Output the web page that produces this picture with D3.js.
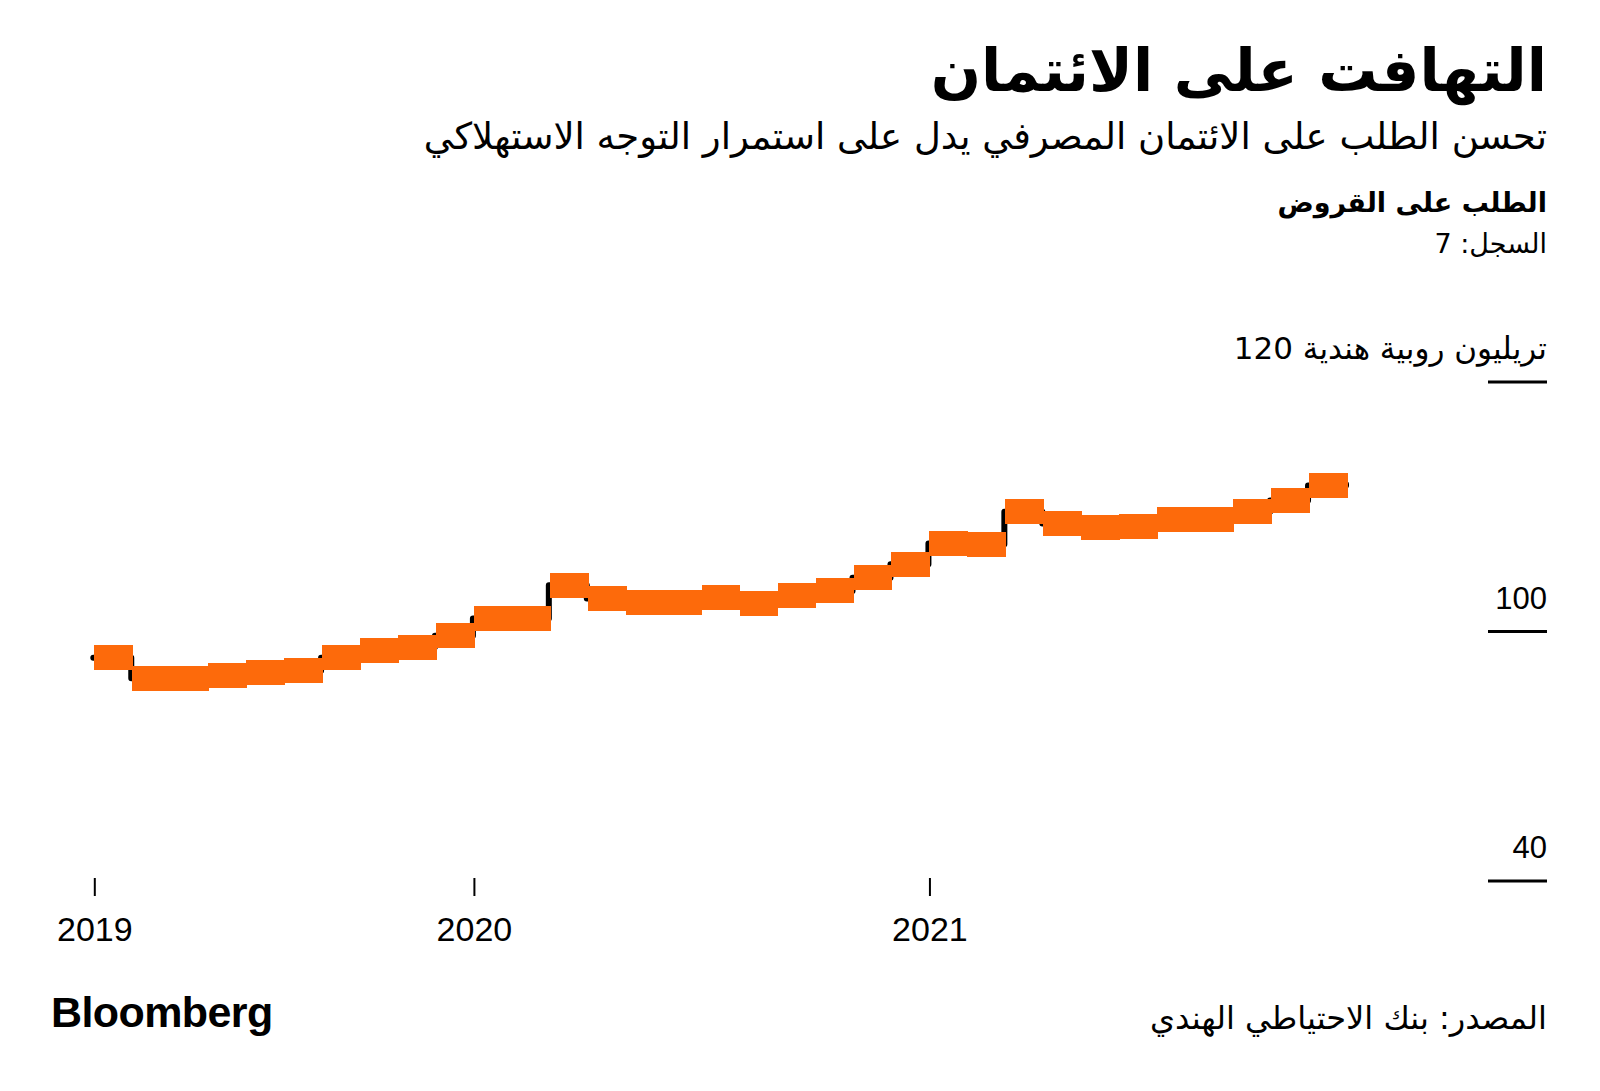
<!DOCTYPE html>
<html>
<head>
<meta charset="utf-8">
<script src="https://cdn.jsdelivr.net/npm/d3@7"></script>
<style>
  html, body { margin: 0; padding: 0; background: #ffffff; }
  svg { display: block; }
  .ar { font-family: "DejaVu Sans", "Noto Sans", sans-serif; }
  .num { font-family: "Liberation Sans", Arial, sans-serif; }
</style>
</head>
<body>
<script>
// ---- Data ----
// Bank credit (loan demand), trillion rupees, one value per period, Jan 2019 .. late 2021
const creditValues = [
  97.9, 96.25, 96.25, 96.5, 96.7, 96.85, 97.9, 98.45, 98.75, 99.65,
  101.05, 101.05, 103.7, 102.65, 102.3, 102.35, 102.7, 102.25, 102.85, 103.25,
  104.3, 105.4, 107.05, 107.0, 109.6, 108.65, 108.3, 108.45, 109.0, 109.0,
  109.6, 110.5, 111.7, 111.8
];
const yearTickPeriods = [0, 10, 22];
const yearTickLabels = ["2019", "2020", "2021"];
const yTickValues = [80, 100, 120];
const yTickLabels = ["40", "100", "120"];
const unitLabel = "تريليون روبية هندية";

const titleText = "التهافت على الائتمان";
const subtitleText = "تحسن الطلب على الائتمان المصرفي يدل على استمرار التوجه الاستهلاكي";
const chartTitleText = "الطلب على القروض";
const recordText = "السجل: 7";
const sourceText = "المصدر: بنك الاحتياطي الهندي";
const logoText = "Bloomberg";

// ---- Layout ----
const W = 1600, H = 1091;
const RIGHT = 1547;
const orange = "#fd6a0b";

const svg = d3.select("body").append("svg")
  .attr("width", W).attr("height", H)
  .attr("viewBox", `0 0 ${W} ${H}`);

svg.append("rect").attr("width", W).attr("height", H).attr("fill", "#fff");

// Header texts
svg.append("text").attr("class", "ar")
  .attr("x", RIGHT).attr("y", 91)
  .attr("text-anchor", "end")
  .attr("font-size", 59).attr("font-weight", 700)
  .attr("fill", "#000")
  .text(titleText);

svg.append("text").attr("class", "ar")
  .attr("x", RIGHT).attr("y", 149)
  .attr("text-anchor", "end")
  .attr("font-size", 37)
  .attr("fill", "#000")
  .text(subtitleText);

svg.append("text").attr("class", "ar")
  .attr("x", RIGHT).attr("y", 212)
  .attr("text-anchor", "end")
  .attr("font-size", 27).attr("font-weight", 700)
  .attr("fill", "#000")
  .text(chartTitleText);

svg.append("text").attr("class", "ar")
  .attr("x", RIGHT).attr("y", 253)
  .attr("text-anchor", "end")
  .attr("font-size", 27)
  .attr("fill", "#000")
  .text(recordText);

// ---- Scales ----
const x = d3.scaleLinear()
  .domain([0, creditValues.length - 1])
  .range([93.3, 1346]);

const y = d3.scaleLinear()
  .domain([80, 120])
  .range([881, 382]);

// ---- Y axis (right side, labels above short tick lines) ----
const yAxisG = svg.append("g");
yTickValues.forEach((v, i) => {
  yAxisG.append("line")
    .attr("x1", 1488).attr("x2", RIGHT)
    .attr("y1", y(v)).attr("y2", y(v))
    .attr("stroke", "#000").attr("stroke-width", 3);
  const isTop = i === yTickValues.length - 1;
  const t = yAxisG.append("text")
    .attr("x", RIGHT).attr("y", y(v) - 23)
    .attr("text-anchor", "end")
    .attr("fill", "#000")
    .attr("font-size", 31);
  if (isTop) {
    t.attr("class", "ar").text(unitLabel + " " + yTickLabels[i]);
  } else {
    t.attr("class", "num").text(yTickLabels[i]);
  }
});

// ---- X axis ----
const xAxis = d3.axisBottom(x)
  .tickValues(yearTickPeriods)
  .tickFormat((d, i) => yearTickLabels[i])
  .tickSize(18)
  .tickPadding(21);

const xAxisG = svg.append("g")
  .attr("transform", "translate(1,878)")
  .call(xAxis);
xAxisG.select(".domain").remove();
xAxisG.selectAll(".tick line").attr("stroke", "#000").attr("stroke-width", 2);
xAxisG.selectAll(".tick text")
  .attr("class", "num")
  .attr("font-family", "Liberation Sans, Arial, sans-serif")
  .attr("font-size", 34)
  .attr("fill", "#000");

// ---- Black step line ----
const stepLine = d3.line()
  .x((d, i) => x(i))
  .y(d => y(d))
  .curve(d3.curveStepAfter);

svg.append("path")
  .datum(creditValues)
  .attr("d", stepLine)
  .attr("fill", "none")
  .attr("stroke", "#000")
  .attr("stroke-width", 6)
  .attr("stroke-linecap", "round")
  .attr("stroke-linejoin", "round");

// ---- Orange step blocks ----
const blockH = 25;
svg.append("g").selectAll("rect")
  .data(creditValues.slice(0, -1))
  .join("rect")
  .attr("x", (d, i) => x(i) + 1)
  .attr("width", (d, i) => x(i + 1) - x(i) + 0.8)
  .attr("y", d => y(d) - blockH / 2)
  .attr("height", blockH)
  .attr("fill", orange)
  .attr("shape-rendering", "crispEdges");

// ---- Footer ----
svg.append("text").attr("class", "num")
  .attr("x", 51).attr("y", 1027)
  .attr("font-size", 43).attr("font-weight", 700)
  .attr("letter-spacing", -0.6)
  .attr("fill", "#000")
  .text(logoText);

svg.append("text").attr("class", "ar")
  .attr("x", RIGHT).attr("y", 1029)
  .attr("text-anchor", "end")
  .attr("font-size", 32)
  .attr("fill", "#000")
  .text(sourceText);
</script>
</body>
</html>
